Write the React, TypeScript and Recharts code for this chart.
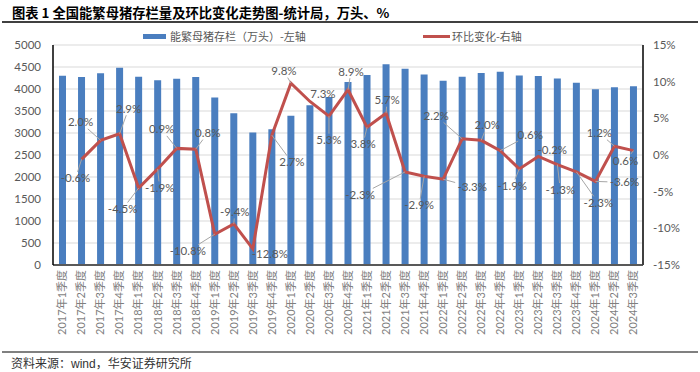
import React from 'react';
import { ComposedChart, Bar, Line, XAxis, YAxis, CartesianGrid, LabelList } from 'recharts';

const categories = [
  '2017年1季度', '2017年2季度', '2017年3季度', '2017年4季度',
  '2018年1季度', '2018年2季度', '2018年3季度', '2018年4季度',
  '2019年1季度', '2019年2季度', '2019年3季度', '2019年4季度',
  '2020年1季度', '2020年2季度', '2020年3季度', '2020年4季度',
  '2021年1季度', '2021年2季度', '2021年3季度', '2021年4季度',
  '2022年1季度', '2022年2季度', '2022年3季度', '2022年4季度',
  '2023年1季度', '2023年2季度', '2023年3季度', '2023年4季度',
  '2024年1季度', '2024年2季度', '2024年3季度',
];

const sowStock = [
  4300, 4275, 4360, 4485, 4280, 4200, 4235, 4270, 3805, 3450, 3010, 3085,
  3390, 3630, 3820, 4160, 4320, 4565, 4460, 4330, 4185, 4277, 4362, 4390,
  4305, 4296, 4240, 4142, 3992, 4038, 4062,
];

const qoqChange: (number | null)[] = [
  null, -0.6, 2.0, 2.9, -4.5, -1.9, 0.9, 0.8, -10.8, -9.4, -12.8, 2.7,
  9.8, 7.3, 5.3, 8.9, 3.8, 5.7, -2.3, -2.9, -3.3, 2.2, 2.0, 0.6,
  -1.9, -0.2, -1.3, -2.3, -3.6, 1.2, 0.6,
];

const leftTicks = [0, 500, 1000, 1500, 2000, 2500, 3000, 3500, 4000, 4500, 5000];
const rightTicks = [-15, -10, -5, 0, 5, 10, 15];

// label placement offsets (style only): [dx, dy] from the point to the label centre
const labelOffsets: [number, number][] = [
  [0, 0], [-6, 19], [-20, -18], [9, -25], [-16, 21], [2, 19], [-15, -19], [12, -16],
  [-27, 17], [1, -12], [17, 5], [20, 27], [-7, -12], [13, -7], [0, 24], [3, -18],
  [-4, 17], [1, -13], [-45, 23], [-5, 29], [29, 8], [-26, -23], [6, -15], [30, -16],
  [-7, 17], [14, -6], [3, 25], [22, 31], [29, 1], [-15, -13], [-8, 10],
];

const data = categories.map((c, i) => ({ name: c, stock: sowStock[i], pct: qoqChange[i] }));

const NUM_FONT = "Lato, 'Noto Sans CJK SC', sans-serif";
const CJK_FONT = "'Noto Sans CJK SC', sans-serif";

const LeftTick = (props: any) => {
  const { x, y, payload } = props;
  return (
    <text x={x} y={y} dy="0.35em" textAnchor="end" fontSize={11.5} fill="#595959" fontFamily={NUM_FONT}>
      {payload.value}
    </text>
  );
};

const RightTick = (props: any) => {
  const { x, y, payload } = props;
  return (
    <text x={x} y={y} dy="0.35em" textAnchor="start" fontSize={11.5} fill="#595959" fontFamily={NUM_FONT}>
      {payload.value}%
    </text>
  );
};

const BottomTick = (props: any) => {
  const { x, y, payload } = props;
  return (
    <text
      x={x}
      y={y}
      dy="0.35em"
      textAnchor="end"
      transform={`rotate(-90, ${x}, ${y})`}
      fontSize={11}
      fill="#7f7f7f"
      fontFamily={NUM_FONT}
    >
      {payload.value}
    </text>
  );
};

const PctLabel = (props: any) => {
  const { x, y, value, index } = props;
  if (value === null || value === undefined || x == null || y == null) return null;
  const [ox, oy] = labelOffsets[index] || [0, -12];
  const txt = `${Number(value).toFixed(1)}%`;
  const cx = x + ox;
  const cy = y + oy;
  const hw = txt.length * 3.2 + 1;
  const hh = 6.5;
  const dx = x - cx;
  const dy = y - cy;
  const tx = dx === 0 ? Infinity : hw / Math.abs(dx);
  const ty = dy === 0 ? Infinity : hh / Math.abs(dy);
  const t = Math.min(tx, ty);
  const dist = Math.sqrt(dx * dx + dy * dy);
  let leader = null;
  if (t < 1 && (1 - t) * dist > 4) {
    const sx = cx + t * dx;
    const sy = cy + t * dy;
    leader = <line x1={sx} y1={sy} x2={x} y2={y} stroke="#A6A6A6" strokeWidth={1} />;
  }
  return (
    <g>
      {leader}
      <text x={cx} y={cy} dy="0.35em" textAnchor="middle" fontSize={11.5} fill="#595959" fontFamily={NUM_FONT}>
        {txt}
      </text>
    </g>
  );
};

export default function App() {
  return (
    <div style={{ position: 'absolute', left: 0, top: 0, width: 700, height: 372, background: '#fff', overflow: 'hidden' }}>
      <div
        style={{
          position: 'absolute', left: 12, top: 4, fontSize: 13.3, lineHeight: '17px', fontWeight: 700,
          fontFamily: CJK_FONT, color: '#000', whiteSpace: 'nowrap',
        }}
      >
        图表 1 全国能繁母猪存栏量及环比变化走势图-统计局，万头、%
      </div>
      <div style={{ position: 'absolute', left: 2, top: 21, width: 696, height: 2, background: '#404040' }} />

      {/* legend */}
      <div style={{ position: 'absolute', left: 143, top: 34, width: 23, height: 5, background: '#4A7EBF' }} />
      <div
        style={{
          position: 'absolute', left: 170, top: 29, fontSize: 11, lineHeight: '14px', fontFamily: CJK_FONT,
          color: '#595959', whiteSpace: 'nowrap',
        }}
      >
        能繁母猪存栏（万头）-左轴
      </div>
      <div style={{ position: 'absolute', left: 423, top: 35, width: 27, height: 3, background: '#C0504D' }} />
      <div
        style={{
          position: 'absolute', left: 452, top: 29, fontSize: 11, lineHeight: '14px', fontFamily: CJK_FONT,
          color: '#595959', whiteSpace: 'nowrap',
        }}
      >
        环比变化-右轴
      </div>

      <div style={{ position: 'absolute', left: 0, top: 0 }}>
        <ComposedChart width={700} height={372} data={data} margin={{ top: 45, right: 7, bottom: 24, left: 8 }}>
          <CartesianGrid vertical={false} stroke="#D9D9D9" yAxisId="left" />
          <XAxis
            dataKey="name"
            interval={0}
            height={83}
            tickLine={false}
            tickSize={4}
            tickMargin={1}
            tick={<BottomTick />}
            axisLine={{ stroke: '#595959', strokeWidth: 2 }}
          />
          <YAxis
            yAxisId="left"
            orientation="left"
            width={45}
            domain={[0, 5000]}
            ticks={leftTicks}
            tickLine={false}
            tickSize={6}
            tickMargin={6}
            tick={<LeftTick />}
            axisLine={{ stroke: '#000', strokeWidth: 1.5 }}
            interval={0}
          />
          <YAxis
            yAxisId="right"
            orientation="right"
            width={50}
            domain={[-15, 15]}
            ticks={rightTicks}
            tickLine={false}
            tickSize={6}
            tickMargin={4}
            tick={<RightTick />}
            axisLine={{ stroke: '#404040', strokeWidth: 2 }}
            interval={0}
          />
          <Bar yAxisId="left" dataKey="stock" fill="#4A7EBF" barSize={7} isAnimationActive={false} />
          <Line
            yAxisId="right"
            dataKey="pct"
            stroke="#C0504D"
            strokeWidth={3}
            dot={false}
            activeDot={false}
            connectNulls={false}
            isAnimationActive={false}
          >
            <LabelList dataKey="pct" content={<PctLabel />} />
          </Line>
        </ComposedChart>
      </div>

      <div style={{ position: 'absolute', left: 2, top: 351, width: 696, height: 2, background: '#808080' }} />
      <div
        style={{
          position: 'absolute', left: 11, top: 355, fontSize: 12, lineHeight: '15px', fontFamily: CJK_FONT,
          color: '#333', whiteSpace: 'nowrap',
        }}
      >
        资料来源：<span style={{ fontFamily: "'Liberation Sans', Arial, sans-serif" }}>wind</span>，华安证券研究所
      </div>
    </div>
  );
}
